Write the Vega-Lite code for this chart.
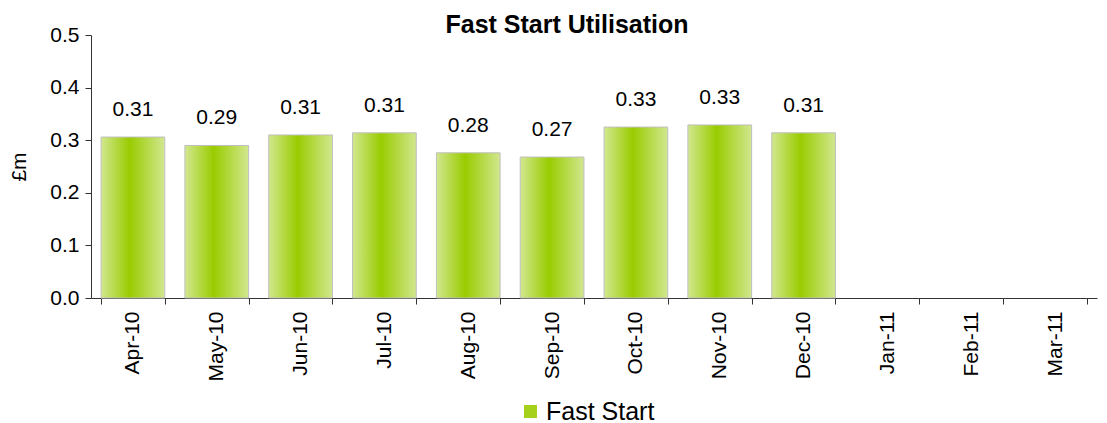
{
  "$schema": "https://vega.github.io/schema/vega-lite/v6.json",
  "width": 1006,
  "height": 263,
  "autosize": {"type": "none"},
  "padding": {"left": 91, "top": 35, "right": 10, "bottom": 125},
  "background": "white",
  "title": {"text": "Fast Start Utilisation", "font": "Liberation Sans", "fontSize": 25, "fontWeight": "bold", "color": "black", "offset": 2, "dy": 16, "dx": -27},
  "config": {"view": {"stroke": null}, "font": "Liberation Sans"},
  "data": {"values": [
    {"month": "Apr-10", "value": 0.306, "label": "0.31", "series": "Fast Start"},
    {"month": "May-10", "value": 0.290, "label": "0.29", "series": "Fast Start"},
    {"month": "Jun-10", "value": 0.310, "label": "0.31", "series": "Fast Start"},
    {"month": "Jul-10", "value": 0.314, "label": "0.31", "series": "Fast Start"},
    {"month": "Aug-10", "value": 0.276, "label": "0.28", "series": "Fast Start"},
    {"month": "Sep-10", "value": 0.268, "label": "0.27", "series": "Fast Start"},
    {"month": "Oct-10", "value": 0.325, "label": "0.33", "series": "Fast Start"},
    {"month": "Nov-10", "value": 0.329, "label": "0.33", "series": "Fast Start"},
    {"month": "Dec-10", "value": 0.314, "label": "0.31", "series": "Fast Start"}
  ]},
  "encoding": {
    "x": {"field": "month", "type": "nominal", "sort": null,
      "scale": {"domain": ["Apr-10","May-10","Jun-10","Jul-10","Aug-10","Sep-10","Oct-10","Nov-10","Dec-10","Jan-11","Feb-11","Mar-11"], "paddingInner": 0.24, "paddingOuter": 0.12},
      "axis": {"title": null, "labelAngle": -90, "labelFontSize": 21, "labelColor": "black", "labelPadding": 7, "tickBand": "extent", "ticks": true, "tickSize": 6, "tickColor": "#333", "domainColor": "#333", "labelFont": "Liberation Sans"}},
    "y": {"field": "value", "type": "quantitative",
      "scale": {"domain": [0, 0.5]},
      "axis": {"title": "£m", "titleFontSize": 21, "titleFontWeight": "normal", "titleColor": "black", "titlePadding": 20, "labelFontSize": 21, "labelColor": "black", "format": ".1f", "values": [0, 0.1, 0.2, 0.3, 0.4, 0.5], "labelOverlap": false, "labelFlush": false, "grid": false, "tickSize": 6, "tickColor": "#333", "domainColor": "#333", "labelPadding": 6}}
  },
  "layer": [
    {
      "mark": {"type": "bar", "fill": {"gradient": "linear", "x1": 0, "x2": 1, "y1": 0, "y2": 0, "stops": [{"offset": 0, "color": "#d2e78f"}, {"offset": 0.45, "color": "#99cc00"}, {"offset": 1, "color": "#d2e78f"}]}, "stroke": "#bfbfbf", "strokeWidth": 1}
    },
    {
      "mark": {"type": "bar", "opacity": 0},
      "encoding": {
        "fill": {"field": "series", "type": "nominal", "scale": {"range": ["#a6d11a"]},
          "legend": {"title": null, "orient": "none", "legendX": 427, "legendY": 364, "direction": "horizontal", "symbolType": "square", "symbolSize": 169, "symbolOpacity": 1, "symbolStrokeWidth": 0, "labelFontSize": 25, "labelColor": "black", "labelFont": "Liberation Sans", "labelOffset": 3,
            "encode": {"symbols": {"update": {"fill": {"value": {"gradient": "linear", "x1": 0, "x2": 1, "y1": 0, "y2": 0, "stops": [{"offset": 0, "color": "#d2e78f"}, {"offset": 0.45, "color": "#99cc00"}, {"offset": 1, "color": "#d2e78f"}]}}, "opacity": {"value": 1}}}}}}
      }
    },
    {
      "mark": {"type": "text", "dy": -27, "fontSize": 21, "color": "black", "font": "Liberation Sans"},
      "encoding": {"text": {"field": "label"}}
    }
  ]
}
